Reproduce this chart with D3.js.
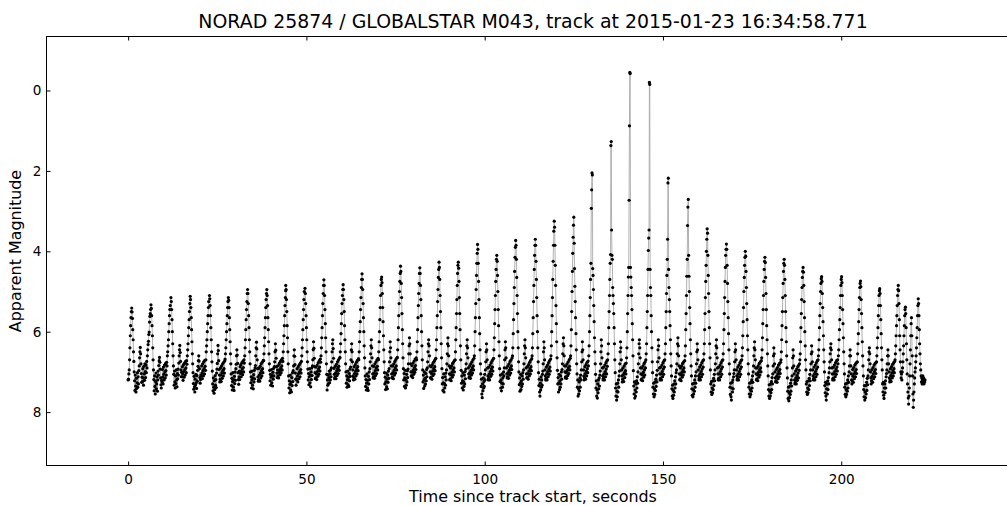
<!DOCTYPE html>
<html>
<head>
<meta charset="utf-8">
<script src="https://cdn.jsdelivr.net/npm/d3@7"></script>
<style>
  body { margin: 0; background: #fff; }
  text { font-family: "DejaVu Sans", sans-serif; fill: #000; }
</style>
</head>
<body>
<svg id="chart" width="1007" height="506"></svg>
<script>
// Light curve of a tumbling satellite: apparent magnitude vs time since track start.
const title = "NORAD 25874 / GLOBALSTAR M043, track at 2015-01-23 16:34:58.771";
const xLabel = "Time since track start, seconds";
const yLabel = "Apparent Magnitude";
const xTicks = [0, 50, 100, 150, 200];
const yTicks = [0, 2, 4, 6, 8];

// samples are 0.1 s apart; each segment starts at a flash maximum (seconds)
const sampleStep = 0.1;
const segmentStart = [0, 1.0, 6.4, 12.0, 17.4, 22.8, 28.1, 33.5, 38.9, 44.2, 49.6, 54.9, 60.3, 65.6, 71.1,
  76.4, 81.8, 87.2, 92.6, 98.0, 103.4, 108.7, 114.2, 119.5, 125.0, 130.1, 135.5, 140.7, 146.2, 151.5,
  157.1, 162.4, 167.8, 173.1, 178.6, 184.0, 189.3, 194.5, 200.1, 205.4, 210.8, 216.0, 218.0, 219.7, 221.6];

// apparent magnitude of every sample, one row per segment
const segmentMag = [
  [7.2, 7.18, 7.05, 6.95, 6.7, 6.4, 6.1, 5.85, 5.65, 5.5],
  [5.41, 5.51, 5.67, 5.95, 6.2, 6.5, 6.74, 7.0, 7.22, 7.46, 7.08, 7.35, 7.5, 7.16, 7.41, 7.27, 7.02, 7.38, 7.12, 7.3, 6.97, 6.85, 6.65, 6.5, 6.39, 6.55, 6.8, 7.04, 7.26, 7.13, 7.24, 6.92, 7.15, 7.33, 6.86, 7.05, 7.21, 6.8, 6.99, 7.14, 6.83, 7.02, 6.74, 6.9, 6.6, 6.45, 6.32, 6.24, 6.07, 6.01, 5.76, 5.62, 5.55, 5.45],
  [5.33, 5.42, 5.6, 5.85, 6.1, 6.4, 6.7, 6.95, 7.19, 7.47, 7.1, 7.36, 7.55, 7.24, 7.03, 7.42, 7.3, 7.12, 7.48, 7.2, 6.98, 7.08, 6.84, 6.72, 6.64, 6.76, 6.93, 7.15, 7.32, 7.4, 7.21, 7.25, 6.94, 7.13, 7.3, 6.88, 7.06, 7.2, 6.83, 7.0, 7.15, 6.79, 6.97, 7.08, 6.76, 6.85, 6.6, 6.5, 6.35, 6.2, 6.0, 5.8, 5.6, 5.45, 5.35],
  [5.15, 5.25, 5.45, 5.7, 6.0, 6.3, 6.6, 6.85, 7.06, 7.33, 6.98, 7.25, 7.4, 7.1, 7.29, 6.95, 7.2, 7.37, 7.04, 7.17, 6.93, 7.08, 6.78, 6.6, 6.45, 6.34, 6.52, 6.74, 6.95, 7.12, 7.01, 7.12, 6.87, 7.05, 7.21, 6.82, 6.99, 7.13, 6.78, 6.94, 7.08, 6.74, 6.9, 7.02, 6.72, 6.81, 6.6, 6.45, 6.3, 6.1, 5.9, 5.7, 5.5, 5.3],
  [5.12, 5.2, 5.4, 5.65, 5.95, 6.25, 6.55, 6.8, 7.02, 7.29, 7.43, 7.11, 7.37, 7.5, 7.18, 7.32, 7.06, 7.27, 7.41, 7.09, 7.23, 6.96, 6.86, 6.72, 6.6, 6.73, 6.92, 7.14, 7.28, 7.19, 7.08, 7.1, 6.85, 7.03, 7.17, 6.8, 6.97, 7.1, 6.75, 6.92, 7.05, 6.71, 6.86, 6.96, 6.7, 6.5, 6.35, 6.2, 6.0, 5.8, 5.6, 5.4, 5.25],
  [5.1, 5.18, 5.35, 5.6, 5.9, 6.2, 6.5, 6.75, 6.98, 7.3, 7.47, 7.15, 7.38, 7.53, 7.22, 7.44, 7.09, 7.33, 7.19, 7.39, 7.03, 6.93, 6.79, 6.55, 6.34, 6.47, 6.72, 6.94, 7.08, 7.25, 7.18, 6.9, 7.08, 7.24, 6.85, 7.02, 7.16, 6.8, 6.96, 7.1, 6.76, 6.92, 7.03, 6.72, 6.68, 6.55, 6.4, 6.2, 6.0, 5.8, 5.6, 5.4, 5.25],
  [5.15, 5.22, 5.4, 5.65, 5.95, 6.25, 6.55, 6.8, 7.05, 7.34, 7.16, 7.45, 7.24, 7.02, 7.38, 7.19, 7.46, 7.11, 7.29, 7.0, 7.21, 6.92, 6.81, 6.6, 6.45, 6.58, 6.79, 7.02, 7.19, 7.31, 7.12, 6.98, 7.19, 6.87, 7.04, 6.82, 7.12, 6.99, 6.77, 6.93, 7.07, 6.73, 6.89, 7.0, 6.7, 6.78, 6.6, 6.4, 6.2, 5.95, 5.7, 5.45, 5.25, 5.05],
  [4.95, 5.05, 5.3, 5.6, 5.9, 6.2, 6.5, 6.8, 7.0, 7.27, 7.12, 7.4, 7.2, 6.98, 7.33, 7.15, 7.42, 7.07, 7.25, 6.96, 7.17, 6.9, 6.84, 6.6, 6.4, 6.26, 6.43, 6.7, 6.92, 7.12, 7.23, 7.19, 6.91, 7.08, 7.23, 6.86, 7.03, 7.15, 6.8, 6.97, 7.1, 6.76, 6.92, 7.02, 6.71, 6.72, 6.55, 6.35, 6.15, 5.9, 5.65, 5.4, 5.2, 5.05],
  [4.95, 5.1, 5.35, 5.65, 5.95, 6.25, 6.55, 6.8, 6.96, 7.22, 7.06, 7.33, 7.13, 6.94, 7.27, 7.09, 7.35, 7.01, 7.18, 6.91, 7.1, 6.87, 6.75, 6.5, 6.3, 6.46, 6.66, 6.87, 7.03, 7.14, 6.95, 7.1, 6.84, 7.15, 7.01, 6.79, 6.95, 7.07, 6.74, 6.9, 7.02, 6.7, 6.85, 6.95, 6.66, 6.74, 6.5, 6.3, 6.1, 5.85, 5.6, 5.35, 5.15, 4.98],
  [4.85, 4.95, 5.2, 5.5, 5.85, 6.15, 6.5, 6.8, 7.1, 7.4, 7.22, 7.52, 7.31, 7.08, 7.45, 7.26, 7.5, 7.14, 7.34, 7.02, 7.24, 6.97, 6.85, 6.6, 6.45, 6.61, 6.82, 7.03, 7.18, 7.33, 7.17, 7.2, 6.92, 7.1, 7.25, 6.87, 7.04, 7.17, 6.82, 6.99, 7.12, 6.78, 6.94, 7.03, 6.74, 6.6, 6.4, 6.2, 5.95, 5.7, 5.45, 5.2, 5.0],
  [4.92, 5.05, 5.3, 5.6, 5.9, 6.2, 6.5, 6.75, 6.93, 7.2, 7.04, 7.32, 7.12, 6.92, 7.27, 7.08, 7.37, 7.0, 7.19, 6.9, 7.09, 6.85, 6.7, 6.45, 6.25, 6.41, 6.66, 6.87, 7.02, 7.17, 7.15, 6.88, 7.05, 7.19, 6.83, 6.99, 7.11, 6.77, 6.93, 7.06, 6.72, 6.88, 6.98, 6.68, 6.76, 6.6, 6.4, 6.15, 5.9, 5.6, 5.3, 5.05, 4.85],
  [4.71, 4.85, 5.1, 5.45, 5.8, 6.15, 6.5, 6.8, 7.06, 7.45, 7.2, 7.33, 7.08, 7.29, 7.14, 6.98, 7.27, 7.05, 7.2, 6.95, 7.12, 6.9, 6.75, 6.5, 6.3, 6.2, 6.42, 6.66, 6.91, 7.06, 7.17, 7.13, 6.86, 7.03, 7.17, 6.81, 6.97, 7.09, 6.75, 6.91, 7.04, 6.7, 6.86, 6.96, 6.66, 6.64, 6.5, 6.3, 6.05, 5.8, 5.55, 5.3, 5.1, 4.95],
  [4.83, 4.95, 5.2, 5.5, 5.85, 6.2, 6.5, 6.8, 7.0, 7.28, 7.1, 7.38, 7.19, 6.98, 7.32, 7.13, 7.36, 7.04, 7.22, 6.93, 7.11, 6.88, 6.7, 6.45, 6.3, 6.5, 6.75, 6.95, 7.1, 7.2, 7.14, 6.87, 7.04, 7.18, 6.82, 6.98, 7.1, 6.76, 6.92, 7.05, 6.71, 6.87, 6.97, 6.67, 6.7, 6.5, 6.25, 6.0, 5.75, 5.45, 5.15, 4.9, 4.7],
  [4.56, 4.7, 4.95, 5.3, 5.65, 6.0, 6.35, 6.65, 6.9, 7.1, 7.36, 7.19, 7.45, 7.28, 7.05, 7.4, 7.21, 7.46, 7.11, 7.3, 7.0, 7.19, 6.92, 6.75, 6.55, 6.35, 6.2, 6.4, 6.65, 6.85, 7.05, 7.15, 7.12, 6.86, 7.03, 7.16, 6.8, 6.97, 7.09, 6.75, 6.9, 7.04, 6.7, 6.86, 6.95, 6.66, 6.7, 6.5, 6.25, 6.0, 5.7, 5.4, 5.1, 4.85, 4.7],
  [4.64, 4.78, 5.05, 5.4, 5.75, 6.1, 6.45, 6.75, 7.02, 7.3, 7.13, 7.44, 7.25, 7.03, 7.37, 7.18, 7.42, 7.08, 7.26, 6.98, 7.16, 6.92, 6.75, 6.5, 6.25, 6.4, 6.65, 6.85, 7.05, 7.15, 7.13, 6.85, 7.02, 7.17, 6.8, 6.96, 7.08, 6.74, 6.9, 7.03, 6.69, 6.85, 6.95, 6.65, 6.64, 6.45, 6.2, 5.9, 5.6, 5.3, 5.0, 4.75, 4.55],
  [4.37, 4.5, 4.8, 5.15, 5.55, 5.95, 6.3, 6.65, 6.92, 7.2, 7.04, 7.36, 7.15, 6.96, 7.4, 7.2, 7.33, 7.06, 7.25, 6.97, 7.14, 6.93, 6.8, 6.55, 6.35, 6.15, 6.3, 6.55, 6.8, 7.0, 7.1, 7.1, 6.84, 7.0, 7.14, 6.78, 6.95, 7.06, 6.73, 6.89, 7.01, 6.68, 6.84, 6.94, 6.65, 6.7, 6.5, 6.25, 5.95, 5.65, 5.35, 5.05, 4.8, 4.55],
  [4.41, 4.55, 4.85, 5.2, 5.6, 6.0, 6.35, 6.7, 6.95, 7.25, 7.08, 7.41, 7.2, 7.0, 7.35, 7.16, 7.3, 7.04, 7.22, 6.94, 7.12, 6.9, 6.75, 6.5, 6.3, 6.2, 6.35, 6.6, 6.85, 7.0, 7.15, 7.14, 6.87, 7.04, 7.18, 6.82, 6.98, 7.09, 6.76, 6.92, 7.05, 6.72, 6.87, 6.97, 6.68, 6.66, 6.45, 6.2, 5.9, 5.6, 5.25, 4.95, 4.65, 4.45],
  [4.27, 4.4, 4.7, 5.1, 5.5, 5.9, 6.3, 6.65, 6.92, 7.3, 7.14, 7.46, 7.27, 7.05, 7.5, 7.29, 7.4, 7.12, 7.33, 7.03, 7.2, 6.95, 6.8, 6.55, 6.3, 6.15, 6.35, 6.6, 6.85, 7.05, 7.2, 7.18, 6.9, 7.07, 7.22, 6.85, 7.01, 7.13, 6.79, 6.95, 7.08, 6.75, 6.9, 7.0, 6.71, 6.7, 6.5, 6.2, 5.9, 5.55, 5.2, 4.85, 4.55, 4.35],
  [4.27, 4.42, 4.75, 5.15, 5.55, 5.95, 6.35, 6.7, 6.96, 7.28, 7.1, 7.4, 7.22, 7.02, 7.45, 7.25, 7.36, 7.08, 7.3, 6.99, 7.17, 6.93, 6.8, 6.55, 6.35, 6.2, 6.4, 6.65, 6.9, 7.05, 7.15, 7.12, 6.85, 7.02, 7.16, 6.8, 6.96, 7.08, 6.75, 6.9, 7.03, 6.7, 6.85, 6.95, 6.66, 6.6, 6.35, 6.0, 5.65, 5.3, 4.95, 4.6, 4.3, 4.05],
  [3.83, 3.95, 4.3, 4.75, 5.2, 5.65, 6.05, 6.45, 6.8, 7.05, 7.36, 7.18, 7.55, 7.64, 7.3, 7.47, 7.15, 7.4, 7.24, 7.36, 7.06, 7.2, 6.95, 6.75, 6.5, 6.3, 6.45, 6.7, 6.9, 7.1, 7.2, 7.16, 6.88, 7.05, 7.2, 6.83, 6.99, 7.11, 6.77, 6.93, 7.06, 6.72, 6.88, 6.98, 6.68, 6.66, 6.45, 6.15, 5.8, 5.45, 5.1, 4.75, 4.45, 4.2],
  [4.1, 4.25, 4.6, 5.0, 5.45, 5.85, 6.25, 6.6, 6.92, 7.24, 7.08, 7.4, 7.2, 7.47, 7.28, 7.05, 7.38, 7.15, 7.3, 7.0, 7.1, 6.9, 6.7, 6.45, 6.25, 6.4, 6.65, 6.9, 7.05, 7.15, 7.12, 6.85, 7.02, 7.16, 6.8, 6.96, 7.08, 6.74, 6.9, 7.03, 6.7, 6.85, 6.94, 6.65, 6.6, 6.4, 6.05, 5.7, 5.3, 4.9, 4.5, 4.15, 3.9],
  [3.73, 3.85, 4.2, 4.65, 5.1, 5.55, 6.0, 6.4, 6.75, 7.0, 7.32, 7.15, 7.48, 7.28, 7.06, 7.44, 7.22, 7.36, 7.1, 7.3, 7.02, 7.18, 6.95, 6.8, 6.55, 6.35, 6.2, 6.4, 6.65, 6.9, 7.05, 7.15, 7.14, 6.87, 7.04, 7.18, 6.82, 6.98, 7.1, 6.76, 6.92, 7.05, 6.71, 6.87, 6.97, 6.67, 6.6, 6.4, 6.05, 5.65, 5.25, 4.85, 4.45, 4.1, 3.85],
  [3.7, 3.85, 4.25, 4.7, 5.15, 5.6, 6.0, 6.4, 6.75, 7.02, 7.34, 7.18, 7.5, 7.6, 7.28, 7.45, 7.12, 7.38, 7.2, 7.33, 7.06, 6.98, 6.8, 6.5, 6.25, 6.4, 6.7, 6.95, 7.1, 7.2, 7.16, 6.88, 7.05, 7.2, 6.83, 6.99, 7.12, 6.77, 6.93, 7.06, 6.72, 6.88, 6.98, 6.68, 6.6, 6.35, 6.0, 5.6, 5.15, 4.7, 4.25, 3.85, 3.5],
  [3.25, 3.4, 3.85, 4.35, 4.85, 5.35, 5.8, 6.25, 6.65, 6.96, 7.3, 7.14, 7.5, 7.28, 7.06, 7.44, 7.22, 7.38, 7.1, 7.3, 7.0, 7.18, 6.94, 6.8, 6.55, 6.3, 6.15, 6.35, 6.6, 6.85, 7.0, 7.15, 7.12, 6.85, 7.02, 7.16, 6.8, 6.96, 7.09, 6.75, 6.9, 7.04, 6.7, 6.86, 6.95, 6.66, 6.6, 6.35, 5.95, 5.5, 5.0, 4.5, 4.05, 3.65, 3.35],
  [3.15, 3.8, 4.43, 4.87, 5.25, 5.65, 6.05, 6.45, 6.8, 7.05, 7.38, 7.2, 7.6, 7.42, 7.55, 7.25, 7.47, 7.15, 7.38, 7.08, 7.2, 6.95, 6.75, 6.5, 6.25, 6.45, 6.7, 6.95, 7.1, 7.2, 7.14, 6.87, 7.04, 7.18, 6.82, 6.98, 7.1, 6.76, 6.92, 7.02, 6.73, 6.85, 6.6, 6.35, 6.0, 5.6, 5.15, 4.7, 4.3, 2.93, 2.47],
  [2.05, 2.1, 4.43, 4.6, 4.95, 5.35, 5.75, 6.15, 6.5, 6.8, 7.06, 7.4, 7.22, 7.6, 7.45, 7.65, 7.3, 7.52, 7.2, 7.42, 7.15, 7.35, 7.08, 6.98, 6.8, 6.5, 6.2, 6.35, 6.65, 6.9, 7.1, 7.2, 7.16, 6.88, 7.05, 7.2, 6.83, 6.99, 7.12, 6.77, 6.93, 7.05, 6.72, 6.86, 6.7, 6.55, 6.3, 5.9, 5.5, 5.1, 4.7, 4.3, 4.08, 1.37],
  [1.27, 3.47, 4.1, 4.2, 4.9, 5.1, 5.3, 5.55, 5.9, 6.3, 6.7, 7.02, 7.4, 7.6, 7.3, 7.7, 7.48, 7.62, 7.28, 7.5, 7.2, 7.38, 7.1, 6.98, 6.8, 6.5, 6.25, 6.4, 6.7, 6.95, 7.1, 7.25, 7.18, 6.9, 7.07, 7.24, 6.85, 7.02, 7.14, 6.8, 6.97, 7.05, 6.78, 6.65, 6.4, 6.0, 5.55, 5.1, 4.64, 4.4, 2.73, 0.88],
  [-0.45, -0.42, 4.4, 4.64, 4.9, 5.1, 5.45, 5.8, 6.2, 6.6, 6.97, 7.35, 7.55, 7.25, 7.65, 7.45, 7.6, 7.3, 7.5, 7.22, 7.4, 7.12, 7.28, 7.0, 6.8, 6.55, 6.3, 6.2, 6.4, 6.65, 6.9, 7.05, 7.2, 7.18, 6.9, 7.07, 7.22, 6.85, 7.01, 7.13, 6.79, 6.95, 7.08, 6.75, 6.9, 6.7, 6.55, 6.3, 5.9, 5.5, 5.1, 4.45, 3.98, 3.67, 3.47],
  [-0.2, -0.15, 4.45, 4.9, 5.1, 5.6, 6.0, 6.4, 6.75, 7.02, 7.38, 7.55, 7.28, 7.62, 7.42, 7.56, 7.25, 7.46, 7.18, 7.36, 7.08, 7.25, 6.96, 6.75, 6.45, 6.2, 6.35, 6.65, 6.9, 7.05, 7.2, 7.16, 6.88, 7.05, 7.2, 6.83, 6.99, 7.12, 6.77, 6.93, 7.06, 6.72, 6.88, 6.7, 6.55, 6.3, 5.9, 5.5, 5.05, 4.6, 4.2, 3.7, 2.3],
  [2.18, 4.45, 4.9, 5.2, 5.5, 5.85, 6.2, 6.55, 6.85, 7.1, 7.42, 7.6, 7.33, 7.66, 7.46, 7.58, 7.3, 7.5, 7.22, 7.4, 7.12, 7.3, 7.02, 6.95, 6.8, 6.55, 6.3, 6.15, 6.35, 6.6, 6.85, 7.05, 7.2, 7.18, 6.9, 7.07, 7.22, 6.85, 7.01, 7.13, 6.79, 6.95, 7.08, 6.75, 6.9, 7.0, 6.72, 6.6, 6.35, 5.95, 5.55, 5.1, 4.62, 4.2, 3.36, 2.9],
  [2.71, 4.1, 4.62, 5.0, 5.4, 5.8, 6.2, 6.55, 6.85, 7.1, 7.42, 7.58, 7.3, 7.62, 7.44, 7.55, 7.28, 7.48, 7.2, 7.38, 7.1, 7.28, 7.0, 6.8, 6.5, 6.3, 6.45, 6.7, 6.95, 7.1, 7.2, 7.16, 6.88, 7.05, 7.2, 6.83, 6.99, 7.12, 6.77, 6.93, 7.06, 6.72, 6.88, 6.7, 6.55, 6.3, 5.95, 5.55, 5.15, 4.75, 4.35, 4.0, 3.7],
  [3.44, 3.55, 4.1, 4.6, 5.05, 5.5, 5.9, 6.3, 6.65, 6.95, 7.3, 7.5, 7.24, 7.56, 7.4, 7.52, 7.22, 7.44, 7.16, 7.34, 7.06, 7.22, 6.95, 6.8, 6.55, 6.35, 6.2, 6.4, 6.65, 6.9, 7.05, 7.2, 7.16, 6.88, 7.05, 7.2, 6.83, 6.99, 7.12, 6.77, 6.93, 7.06, 6.72, 6.88, 6.7, 6.55, 6.3, 5.95, 5.55, 5.15, 4.75, 4.4, 4.1, 3.95],
  [3.82, 3.95, 4.35, 4.8, 5.25, 5.65, 6.05, 6.45, 6.8, 7.05, 7.38, 7.56, 7.28, 7.62, 7.7, 7.4, 7.26, 7.5, 7.2, 7.42, 7.12, 7.04, 6.95, 6.75, 6.5, 6.3, 6.45, 6.7, 6.95, 7.1, 7.2, 7.16, 6.88, 7.05, 7.2, 6.83, 6.99, 7.12, 6.77, 6.93, 7.06, 6.72, 6.88, 6.7, 6.6, 6.4, 6.1, 5.75, 5.4, 5.0, 4.65, 4.35, 4.15],
  [4.0, 4.12, 4.5, 4.9, 5.3, 5.7, 6.1, 6.45, 6.8, 7.05, 7.38, 7.55, 7.28, 7.62, 7.44, 7.56, 7.26, 7.48, 7.2, 7.4, 7.1, 7.26, 7.0, 6.85, 6.6, 6.4, 6.25, 6.45, 6.7, 6.9, 7.05, 7.2, 7.18, 6.9, 7.07, 7.22, 6.85, 7.01, 7.13, 6.79, 6.95, 7.08, 6.75, 6.9, 7.0, 6.72, 6.65, 6.45, 6.15, 5.8, 5.45, 5.1, 4.75, 4.45, 4.25],
  [4.15, 4.28, 4.65, 5.05, 5.45, 5.85, 6.2, 6.55, 6.85, 7.1, 7.44, 7.6, 7.32, 7.66, 7.48, 7.6, 7.3, 7.52, 7.24, 7.44, 7.14, 7.3, 7.05, 6.85, 6.6, 6.4, 6.55, 6.8, 7.0, 7.15, 7.25, 7.22, 6.94, 7.11, 7.26, 6.89, 7.05, 7.17, 6.83, 6.99, 7.12, 6.79, 6.94, 7.04, 6.76, 6.7, 6.5, 6.2, 5.85, 5.5, 5.15, 4.8, 4.5, 4.3],
  [4.2, 4.35, 4.7, 5.1, 5.5, 5.9, 6.25, 6.6, 6.9, 7.15, 7.48, 7.66, 7.38, 7.72, 7.52, 7.64, 7.35, 7.56, 7.28, 7.48, 7.2, 7.35, 7.1, 6.9, 6.65, 6.45, 6.6, 6.85, 7.05, 7.2, 7.3, 7.26, 6.98, 7.15, 7.3, 6.93, 7.09, 7.21, 6.87, 7.03, 7.15, 6.83, 6.96, 6.8, 6.7, 6.55, 6.25, 5.9, 5.55, 5.2, 4.9, 4.65, 4.5],
  [4.4, 4.52, 4.85, 5.25, 5.65, 6.0, 6.35, 6.7, 6.95, 7.3, 7.5, 7.24, 7.56, 7.4, 7.52, 7.22, 7.44, 7.16, 7.34, 7.06, 7.22, 6.95, 6.8, 6.55, 6.35, 6.5, 6.75, 6.95, 7.1, 7.2, 7.16, 6.88, 7.05, 7.2, 6.83, 6.99, 7.12, 6.77, 6.93, 7.06, 6.72, 6.88, 6.7, 6.6, 6.45, 6.2, 5.9, 5.6, 5.3, 5.0, 4.8, 4.68],
  [4.63, 4.75, 5.05, 5.4, 5.75, 6.1, 6.45, 6.75, 7.0, 7.34, 7.52, 7.26, 7.6, 7.7, 7.42, 7.3, 7.55, 7.22, 7.44, 7.14, 7.3, 7.02, 6.9, 6.75, 6.55, 6.4, 6.3, 6.45, 6.7, 6.9, 7.05, 7.2, 7.16, 6.88, 7.05, 7.2, 6.83, 6.99, 7.12, 6.77, 6.93, 7.06, 6.72, 6.88, 6.98, 6.7, 6.8, 6.6, 6.45, 6.2, 5.95, 5.7, 5.4, 5.1, 4.85, 4.7],
  [4.63, 4.78, 5.1, 5.45, 5.8, 6.15, 6.5, 6.8, 7.05, 7.38, 7.56, 7.3, 7.62, 7.44, 7.56, 7.28, 7.48, 7.2, 7.4, 7.1, 7.26, 7.0, 6.85, 6.6, 6.45, 6.6, 6.85, 7.05, 7.2, 7.3, 7.22, 6.94, 7.11, 7.26, 6.89, 7.05, 7.17, 6.83, 6.99, 7.12, 6.79, 6.94, 7.04, 6.76, 6.75, 6.55, 6.3, 6.05, 5.75, 5.45, 5.15, 4.9, 4.8],
  [4.74, 4.88, 5.2, 5.55, 5.9, 6.25, 6.6, 6.85, 7.1, 7.44, 7.62, 7.34, 7.7, 7.5, 7.64, 7.34, 7.55, 7.26, 7.46, 7.16, 7.32, 7.1, 6.95, 6.7, 6.5, 6.4, 6.55, 6.8, 7.0, 7.15, 7.3, 7.22, 6.94, 7.11, 7.26, 6.89, 7.05, 7.17, 6.83, 6.99, 7.12, 6.79, 6.94, 7.04, 6.76, 6.75, 6.6, 6.4, 6.15, 5.9, 5.6, 5.35, 5.1, 4.98],
  [4.93, 5.05, 5.35, 5.7, 6.05, 6.4, 6.7, 6.95, 7.3, 7.5, 7.26, 7.58, 7.66, 7.4, 7.3, 7.52, 7.22, 7.4, 7.12, 7.04, 6.95, 6.8, 6.6, 6.45, 6.6, 6.8, 7.0, 7.15, 7.25, 7.2, 6.92, 7.09, 7.24, 6.87, 7.03, 7.15, 6.81, 6.97, 7.1, 6.77, 6.92, 7.02, 6.74, 6.7, 6.55, 6.35, 6.1, 5.85, 5.6, 5.35, 5.1, 4.95],
  [4.85, 4.98, 5.3, 5.7, 6.1, 6.45, 6.75, 7.0, 7.15, 7.05, 7.2, 7.0, 6.9, 6.75, 6.55, 6.35, 6.1, 5.85, 5.6, 5.45],
  [5.39, 5.55, 5.9, 6.3, 6.7, 7.05, 7.3, 7.5, 7.65, 7.8, 7.6, 7.4, 7.1, 6.8, 6.45, 6.1, 5.8],
  [5.65, 6.1, 6.6, 7.1, 7.55, 7.88, 7.7, 7.5, 7.3, 7.15, 7.0, 6.9, 6.75, 6.6, 6.4, 6.15, 5.9, 5.6, 5.35],
  [5.18, 5.3, 5.6, 5.95, 6.3, 6.55, 6.8, 6.95, 7.1, 7.25, 7.15, 7.3, 7.2, 7.1, 7.25, 7.15, 7.3, 7.2, 7.25, 7.2]
];

const points = segmentMag.flatMap((mags, k) =>
  mags.map((m, j) => ({ t: segmentStart[k] + j * sampleStep, m })));

const margin = { left: 46.5, top: 36.5, right: 1019.5, bottom: 465.5 };

const x = d3.scaleLinear()
  .domain([-22.9, 250])
  .range([margin.left, margin.right]);

// magnitudes grow downwards
const y = d3.scaleLinear()
  .domain([-1.343, 9.328])
  .range([margin.top, margin.bottom]);

const svg = d3.select('#chart');

svg.append('defs').append('clipPath')
  .attr('id', 'plot-area')
  .append('rect')
  .attr('x', margin.left)
  .attr('y', margin.top)
  .attr('width', margin.right - margin.left)
  .attr('height', margin.bottom - margin.top);

const plot = svg.append('g').attr('clip-path', 'url(#plot-area)');

const line = d3.line()
  .x(d => x(d.t))
  .y(d => y(d.m));

plot.append('path')
  .datum(points)
  .attr('fill', 'none')
  .attr('stroke', '#a8a8a8')
  .attr('stroke-width', 0.9)
  .attr('d', line);

plot.append('g')
  .selectAll('circle')
  .data(points)
  .join('circle')
  .attr('cx', d => x(d.t))
  .attr('cy', d => y(d.m))
  .attr('r', 1.6)
  .attr('fill', '#000');

// ticks point inwards, matplotlib classic style
const bottomAxis = svg.append('g')
  .attr('transform', `translate(0,${margin.bottom})`)
  .call(d3.axisBottom(x).tickValues(xTicks).tickSize(-4).tickPadding(9));
const topAxis = svg.append('g')
  .attr('transform', `translate(0,${margin.top})`)
  .call(d3.axisTop(x).tickValues(xTicks).tickSize(-4).tickFormat(''));
const leftAxis = svg.append('g')
  .attr('transform', `translate(${margin.left},0)`)
  .call(d3.axisLeft(y).tickValues(yTicks).tickSize(-4).tickPadding(5));

[bottomAxis, topAxis, leftAxis].forEach(g => {
  g.select('.domain').remove();
  g.selectAll('.tick line').attr('stroke', '#000');
  g.selectAll('.tick text')
    .style('font-family', '"DejaVu Sans", sans-serif')
    .style('font-size', '13.6px')
    .attr('fill', '#000');
});

svg.append('rect')
  .attr('x', margin.left)
  .attr('y', margin.top)
  .attr('width', margin.right - margin.left)
  .attr('height', margin.bottom - margin.top)
  .attr('fill', 'none')
  .attr('stroke', '#000')
  .attr('stroke-width', 1);

svg.append('text')
  .attr('x', (margin.left + margin.right) / 2)
  .attr('y', 28)
  .attr('text-anchor', 'middle')
  .style('font-size', '18.9px')
  .text(title);

svg.append('text')
  .attr('x', (margin.left + margin.right) / 2)
  .attr('y', 502)
  .attr('text-anchor', 'middle')
  .style('font-size', '15.9px')
  .text(xLabel);

svg.append('text')
  .attr('transform', `translate(21,${(margin.top + margin.bottom) / 2}) rotate(-90)`)
  .attr('text-anchor', 'middle')
  .style('font-size', '15.9px')
  .text(yLabel);
</script>
</body>
</html>
